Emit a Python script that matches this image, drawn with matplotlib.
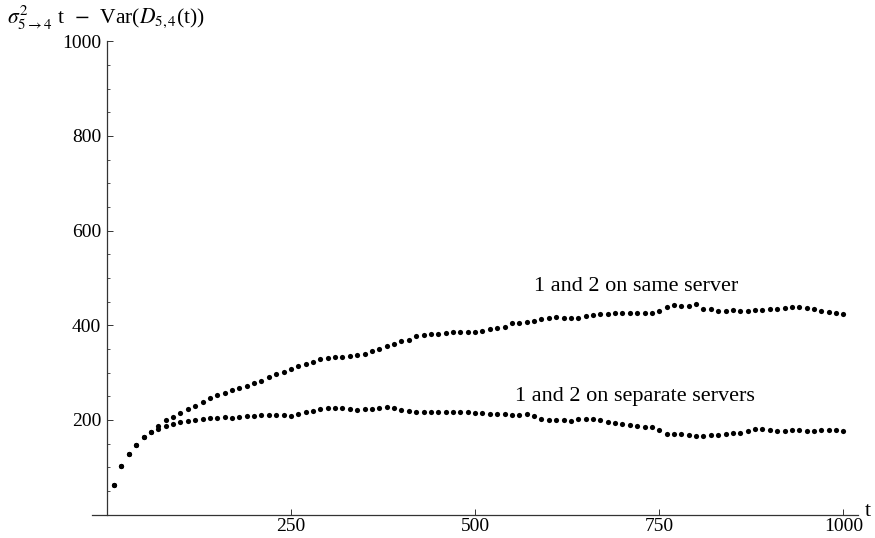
import matplotlib

matplotlib.use("Agg")
import matplotlib.pyplot as plt
import numpy as np

plt.rcParams["font.family"] = ["Liberation Serif", "DejaVu Serif"]
plt.rcParams["mathtext.fontset"] = "stix"

# time steps, one sample every 10 units
t = np.arange(10, 1001, 10)

# 1 and 2 on the same server
same_server = [
    63, 102, 128, 148, 164, 175, 187, 199, 207, 214,
    223, 230, 239, 246, 253, 258, 263, 268, 272, 278,
    283, 291, 297, 301, 308, 313, 318, 323, 328, 330,
    332, 334, 336, 337, 339, 345, 351, 356, 361, 367,
    370, 377, 380, 381, 382, 383, 385, 386, 386, 386,
    388, 392, 395, 397, 404, 405, 408, 410, 413, 415,
    418, 416, 415, 416, 419, 422, 423, 423, 425, 425,
    427, 427, 427, 427, 431, 439, 442, 441, 441, 444,
    434, 434, 431, 431, 432, 431, 431, 432, 432, 434,
    434, 436, 438, 438, 437, 434, 430, 428, 427, 424,
]

# 1 and 2 on separate servers
separate_servers = [
    63, 102, 128, 148, 164, 175, 181, 187, 192, 196,
    198, 200, 202, 204, 205, 207, 204, 207, 209, 209,
    211, 211, 211, 211, 209, 212, 216, 220, 223, 225,
    226, 225, 223, 221, 223, 223, 226, 227, 226, 222,
    220, 217, 216, 216, 216, 216, 217, 217, 216, 214,
    214, 213, 213, 213, 211, 211, 213, 209, 202, 201,
    201, 200, 198, 202, 203, 202, 199, 196, 194, 192,
    189, 187, 186, 185, 179, 170, 170, 170, 169, 167,
    167, 168, 168, 170, 172, 172, 177, 180, 182, 179,
    177, 177, 179, 178, 177, 177, 178, 179, 178, 177,
]

x_ticks = [250, 500, 750, 1000]
y_ticks = [200, 400, 600, 800, 1000]

fig = plt.figure(figsize=(8.75, 5.38), dpi=100)
W, H = 875, 538
# pixel frame of the plot area
x0_px, x1_px = 92.0, 858.2
y0_px, y1_px = 514.7, 41.2
ax = fig.add_axes([x0_px / W, 1 - y0_px / H, (x1_px - x0_px) / W, (y0_px - y1_px) / H])

ax.scatter(t, same_server, s=14, color="black", linewidths=0, zorder=3)
ax.scatter(t, separate_servers, s=14, color="black", linewidths=0, zorder=3)

ax.set_xlim(-20, 1020)
ax.set_ylim(0, 1000)

axis_color = "#333333"
for side in ("top", "right"):
    ax.spines[side].set_visible(False)
ax.spines["left"].set_position(("data", 0))
ax.spines["bottom"].set_position(("data", 0))
for side in ("left", "bottom"):
    ax.spines[side].set_color(axis_color)
    ax.spines[side].set_linewidth(0.9)

ax.set_xticks(x_ticks)
ax.set_yticks(y_ticks)
ax.set_yticks(np.arange(50, 1000, 50), minor=True)
ax.tick_params(axis="both", which="major", direction="in", length=4, width=0.7,
               color=axis_color, labelsize=14, pad=4)
ax.tick_params(axis="y", which="minor", direction="in", length=2.2, width=0.6,
               color=axis_color)
ax.tick_params(axis="x", which="major", pad=2.5)

ax.text(719, 481, "1 and 2 on same server", fontsize=16, ha="center", va="center")
ax.text(717, 249, "1 and 2 on separate servers", fontsize=16, ha="center", va="center")

fig.text(7 / W, 1 - 24 / H,
         r"$\sigma^2_{5\rightarrow 4}$ t  $-$  Var($D_{5,4}$(t))",
         fontsize=15.5, ha="left", va="baseline")
fig.text(865 / W, 1 - 511 / H, "t", fontsize=16, ha="left", va="center")

fig.savefig("out.png", dpi=100)
